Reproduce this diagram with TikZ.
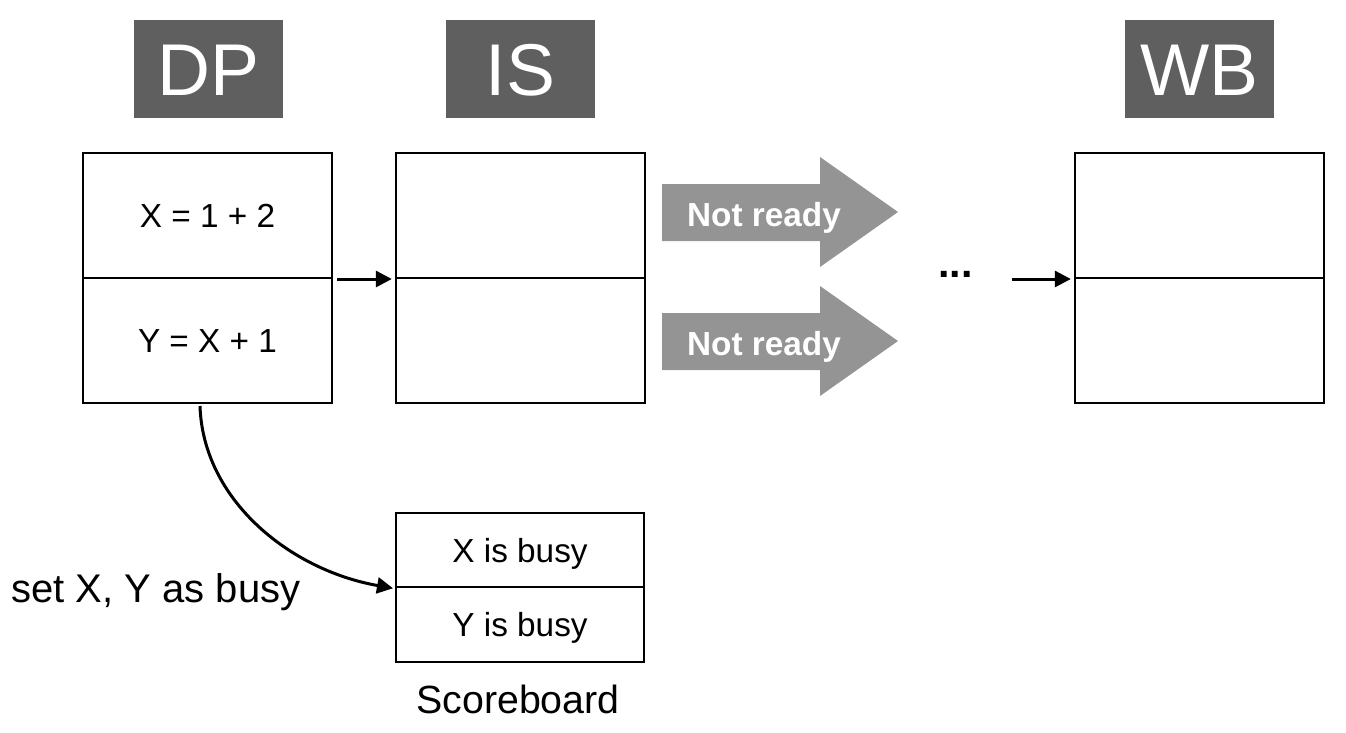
\documentclass[tikz,border=0pt]{standalone}
\usepackage{fontspec}
\setmainfont{Liberation Sans}
\usetikzlibrary{arrows.meta,calc}
\definecolor{hdr}{HTML}{5F5F5F}
\definecolor{bigarr}{HTML}{949494}
\begin{document}
\begin{tikzpicture}[x=0.75pt,y=-0.75pt,
  hdrbox/.style={fill=hdr,text=white,minimum width=111.75pt,minimum height=73.5pt,
    inner sep=0pt,text height=39.6pt,text depth=0pt,font=\fontsize{55}{55}\selectfont},
  cell/.style={draw,line width=1.5pt,minimum width=186.75pt,minimum height=93.75pt,
    inner sep=0pt,text height=18pt,text depth=0pt,font=\fontsize{25}{26}\selectfont},
  sbcell/.style={draw,line width=1.5pt,minimum width=186pt,minimum height=55.9pt,
    inner sep=0pt,text height=18pt,text depth=0pt,font=\fontsize{25}{26}\selectfont},
  nrtext/.style={text=white,inner sep=0pt,text height=18pt,text depth=0pt,
    font=\fontsize{25}{26}\selectfont\bfseries},
  arr/.style={line width=2.25pt,-{Triangle[length=12pt,width=12pt]}},
  bigarrow/.style={fill=bigarr}
]
\useasboundingbox (0,0) rectangle (1346,732);

% headers
\node[hdrbox] (hdp) at (208.5,69) {DP};
\node[hdrbox] (his) at (520.5,69) {IS};
\node[hdrbox] (hwb) at (1199.5,69) {WB};

% DP stage
\node[cell] (dp1) at (207.5,215.5) {X = 1 + 2};
\node[cell] (dp2) at (207.5,340.5) {Y = X + 1};
% IS stage
\node[cell] (is1) at (520,215.5) {};
\node[cell] (is2) at (520,340.5) {};
% WB stage
\node[cell] (wb1) at (1199,215.5) {};
\node[cell] (wb2) at (1199,340.5) {};

% big gray arrows
\fill[bigarrow] (662,184) -- (820,184) -- (820,157) -- (898,212) -- (820,267) -- (820,241) -- (662,241) -- cycle;
\fill[bigarrow] (662,313) -- (820,313) -- (820,286) -- (898,341) -- (820,396) -- (820,370) -- (662,370) -- cycle;
\node[nrtext] (nr1) at (764,214) {Not ready};
\node[nrtext] (nr2) at (764,343) {Not ready};

% dots
\node[inner sep=0pt,anchor=base,font=\fontsize{31}{32}\selectfont\bfseries] (dots) at (955.5,277) {...};

% scoreboard
\node[sbcell] (sb1) at (520,550) {X is busy};
\node[sbcell] (sb2) at (520,624.5) {Y is busy};
\node[inner sep=0pt,anchor=base,font=\fontsize{29.5}{31}\selectfont] (sbl) at (518,713) {Scoreboard};
\node[inner sep=0pt,anchor=base west,font=\fontsize{30}{31}\selectfont] (setl) at (11,602) {set X, Y as busy};

% connectors
\draw[arr] ([xshift=3pt]dp1.south east) -- ([xshift=-2pt]is1.south west);
\draw[arr] ([xshift=29pt]dots.base east |- wb1.south west) -- ([xshift=-2pt]wb1.south west);
\coordinate (cs) at (200,406);
\draw[arr] (cs) .. controls (203,500) and (290,570) .. ([xshift=-1.5pt]sb1.south west);
\end{tikzpicture}
\end{document}
